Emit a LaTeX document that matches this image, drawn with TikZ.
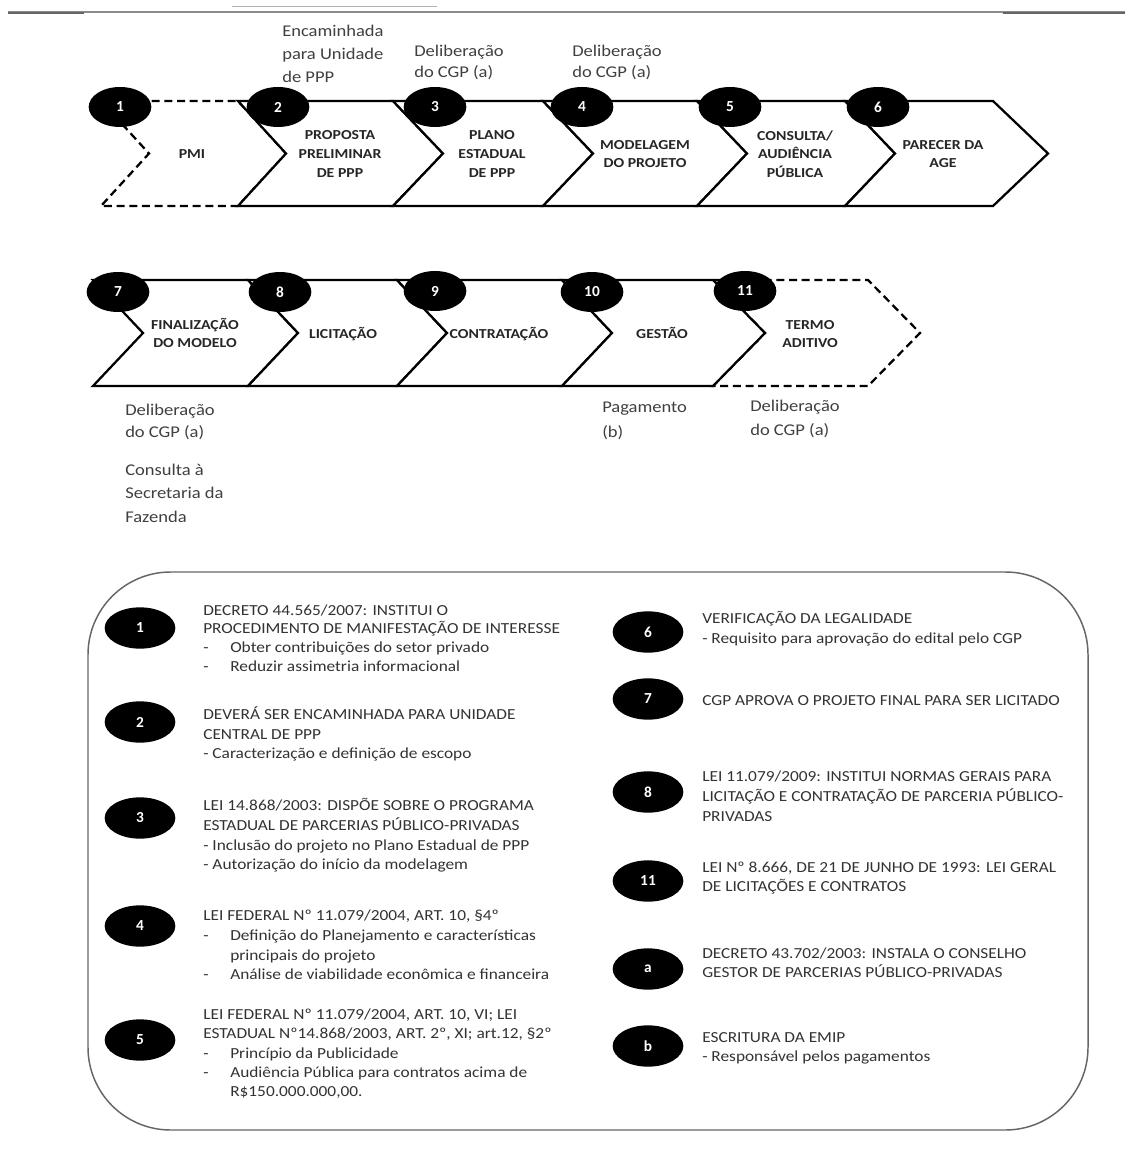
\documentclass[tikz,border=0pt]{standalone}
\usepackage{fontspec}
\setmainfont{Carlito}
\newfontfamily\widefont{Carlito}[FakeStretch=1.13]
\newfontfamily\stepfont{Carlito}[FakeStretch=1.15]
\usetikzlibrary{shapes.geometric}
\newcommand\chevron[7]{%
  \draw[#7] (#1,#3) -- (#2,#3) -- ({#2+#6},{(#3+#4)/2}) -- (#2,#4) -- (#1,#4) -- ({#1+#5},{(#3+#4)/2}) -- cycle;}
\begin{document}
\begin{tikzpicture}[x=0.75pt,y=-0.75pt,
  chev/.style={draw=black, line width=1.7pt, fill=white, line join=miter},
  chevdash/.style={chev, dash pattern=on 6pt off 3.5pt},
  num/.style={ellipse, fill=black, minimum width=47pt, minimum height=30pt, inner sep=0pt, text=white, font=\bfseries\fontsize{11.5}{12}\selectfont},
  lnum/.style={num, minimum width=53pt, minimum height=31pt},
  steplabel/.style={align=center, font=\stepfont\bfseries\fontsize{10.3}{14}\selectfont, text=black!85, inner sep=0pt},
  note/.style={anchor=base west, font=\widefont\fontsize{12.3}{14}\selectfont, text=black!75, inner sep=0pt},
  lt/.style={anchor=base west, font=\widefont\fontsize{11.5}{12}\selectfont, text=black!80, inner sep=0pt}
]
\useasboundingbox (0,0) rectangle (1131,1151);
\fill[white] (0,0) rectangle (1131,1151);

% top rule
\draw[black!45, line width=0.8pt] (8,12) -- (1125,12);
\draw[black!30, line width=0.6pt] (232,6) -- (437,6);
\draw[black!60, line width=2.2pt] (8,13) -- (84,13);
\draw[black!60, line width=2.2pt] (1003,13) -- (1125,13);

% row 1 chevrons
\chevron{101}{238}{101}{206}{48}{48}{chevdash}
\chevron{238}{393}{101}{206}{48}{50}{chev}
\chevron{393}{543}{101}{206}{50}{50}{chev}
\chevron{543}{697}{101}{206}{50}{50}{chev}
\chevron{697}{845}{101}{206}{50}{50}{chev}
\chevron{845}{993}{101}{206}{50}{55}{chev}

% row 2 chevrons
\chevron{713}{868}{280}{386}{52}{52}{chevdash}
\chevron{93}{248}{280}{386}{50}{50}{chev}
\chevron{248}{397}{280}{386}{50}{50}{chev}
\chevron{397}{562}{280}{386}{50}{50}{chev}
\chevron{562}{713}{280}{386}{50}{52}{chev}

% step labels row 1
\node[steplabel] (s1) at (192,154) {PMI};
\node[steplabel] (s2) at (340,154) {PROPOSTA\\PRELIMINAR\\DE PPP};
\node[steplabel] (s3) at (492,154) {PLANO\\ESTADUAL\\DE PPP};
\node[steplabel] (s4) at (645,154) {MODELAGEM\\DO PROJETO};
\node[steplabel] (s5) at (795,154) {CONSULTA/\\AUDIÊNCIA\\PÚBLICA};
\node[steplabel] (s6) at (943,154) {PARECER DA\\AGE};
% step labels row 2
\node[steplabel] (s7) at (195,333) {FINALIZAÇÃO\\DO MODELO};
\node[steplabel] (s8) at (343,334) {LICITAÇÃO};
\node[steplabel] (s9) at (499,334) {CONTRATAÇÃO};
\node[steplabel] (s10) at (662,333) {GESTÃO};
\node[steplabel] (s11) at (810,334) {TERMO\\ADITIVO};

% number badges
\node[num] (n1) at (120,107) {1};
\node[num] (n2) at (278,107) {2};
\node[num] (n3) at (435,107) {3};
\node[num] (n4) at (582,107) {4};
\node[num] (n5) at (730,107) {5};
\node[num] (n6) at (878,107) {6};
\node[num] (n7) at (118,292) {7};
\node[num] (n8) at (280,292) {8};
\node[num] (n9) at (435,291) {9};
\node[num] (n10) at (592,292) {10};
\node[num] (n11) at (745,291) {11};

% notes row 1
\node[note] (e1) at (282,37) {Encaminhada};
\node[note] (e2) at (282,60) {para Unidade};
\node[note] (e3) at (282,83) {de PPP};
\node[note] (d3a) at (414,57) {Deliberação};
\node[note] (d3b) at (414,78) {do CGP (a)};
\node[note] (d4a) at (572,57) {Deliberação};
\node[note] (d4b) at (572,78) {do CGP (a)};
% notes row 2
\node[note] (d7a) at (125,415) {Deliberação};
\node[note] (d7b) at (125,437) {do CGP (a)};
\node[note] (c7a) at (125,475) {Consulta à};
\node[note] (c7b) at (125,498) {Secretaria da};
\node[note] (c7c) at (125,522) {Fazenda};
\node[note] (p10a) at (602,412) {Pagamento};
\node[note] (p10b) at (602,437) {(b)};
\node[note] (d11a) at (750,411) {Deliberação};
\node[note] (d11b) at (750,435) {do CGP (a)};

% legend frame
\draw[black!60, line width=1.1pt, rounded corners=62pt] (88,572) rectangle (1088,1130);

% legend left column
\node[lnum] (l1) at (140,628) {1};
\node[lnum] (l2) at (140,722) {2};
\node[lnum] (l3) at (140,818) {3};
\node[lnum] (l4) at (140,926) {4};
\node[lnum] (l5) at (140,1040) {5};

\node[lt] (t1a) at (203,615) {DECRETO 44.565/2007: INSTITUI O};
\node[lt] (t1b) at (203,633) {PROCEDIMENTO DE MANIFESTAÇÃO DE INTERESSE};
\node[lt] (t1c) at (203,652) {-};
\node[lt] (t1d) at (230,652) {Obter contribuições do setor privado};
\node[lt] (t1e) at (203,671) {-};
\node[lt] (t1f) at (230,671) {Reduzir assimetria informacional};

\node[lt] (t2a) at (203,719) {DEVERÁ SER ENCAMINHADA PARA UNIDADE};
\node[lt] (t2b) at (203,739) {CENTRAL DE PPP};
\node[lt] (t2c) at (203,758) {- Caracterização e definição de escopo};

\node[lt] (t3a) at (203,810) {LEI 14.868/2003: DISPÕE SOBRE O PROGRAMA};
\node[lt] (t3b) at (203,830) {ESTADUAL DE PARCERIAS PÚBLICO-PRIVADAS};
\node[lt] (t3c) at (203,850) {- Inclusão do projeto no Plano Estadual de PPP};
\node[lt] (t3d) at (203,869) {- Autorização do início da modelagem};

\node[lt] (t4a) at (203,920) {LEI FEDERAL Nº 11.079/2004, ART. 10, §4º};
\node[lt] (t4b) at (203,940) {-};
\node[lt] (t4c) at (230,940) {Definição do Planejamento e características};
\node[lt] (t4d) at (230,960) {principais do projeto};
\node[lt] (t4e) at (203,979) {-};
\node[lt] (t4f) at (230,979) {Análise de viabilidade econômica e financeira};

\node[lt] (t5a) at (203,1019) {LEI FEDERAL Nº 11.079/2004, ART. 10, VI; LEI};
\node[lt] (t5b) at (203,1038) {ESTADUAL Nº14.868/2003, ART. 2º, XI; art.12, §2º};
\node[lt] (t5c) at (203,1058) {-};
\node[lt] (t5d) at (230,1058) {Princípio da Publicidade};
\node[lt] (t5e) at (203,1077) {-};
\node[lt] (t5f) at (230,1077) {Audiência Pública para contratos acima de};
\node[lt] (t5g) at (230,1096) {R\$150.000.000,00.};

% legend right column
\node[lnum] (l6) at (648,632) {6};
\node[lnum] (l7) at (648,699) {7};
\node[lnum] (l8) at (648,792) {8};
\node[lnum] (l11) at (648,881) {11};
\node[lnum] (la) at (648,969) {a};
\node[lnum] (lb) at (648,1046) {b};

\node[lt] (t6a) at (702,623) {VERIFICAÇÃO DA LEGALIDADE};
\node[lt] (t6b) at (702,643) {- Requisito para aprovação do edital pelo CGP};
\node[lt] (t7a) at (702,705) {CGP APROVA O PROJETO FINAL PARA SER LICITADO};
\node[lt] (t8a) at (702,781) {LEI 11.079/2009: INSTITUI NORMAS GERAIS PARA};
\node[lt] (t8b) at (702,801) {LICITAÇÃO E CONTRATAÇÃO DE PARCERIA PÚBLICO-};
\node[lt] (t8c) at (702,821) {PRIVADAS};
\node[lt] (t11a) at (702,872) {LEI Nº 8.666, DE 21 DE JUNHO DE 1993: LEI GERAL};
\node[lt] (t11b) at (702,891) {DE LICITAÇÕES E CONTRATOS};
\node[lt] (taa) at (702,958) {DECRETO 43.702/2003: INSTALA O CONSELHO};
\node[lt] (tab) at (702,977) {GESTOR DE PARCERIAS PÚBLICO-PRIVADAS};
\node[lt] (tba) at (702,1042) {ESCRITURA DA EMIP};
\node[lt] (tbb) at (702,1061) {- Responsável pelos pagamentos};
\end{tikzpicture}
\end{document}
